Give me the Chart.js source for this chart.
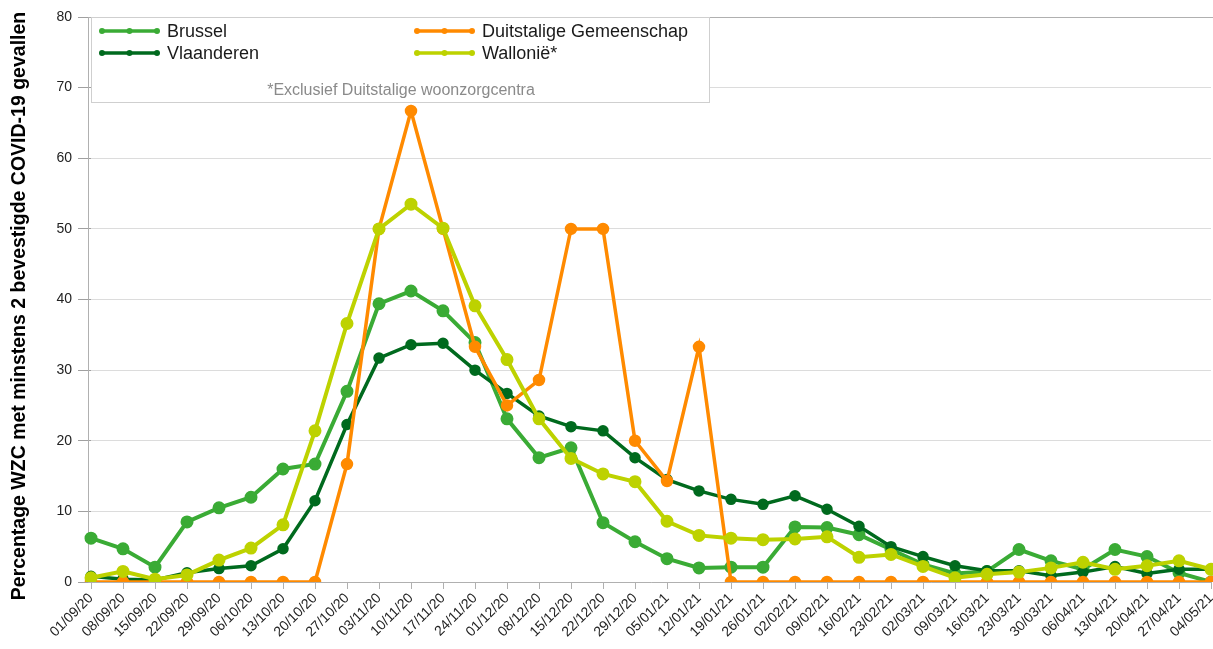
<!DOCTYPE html>
<html>
<head>
<meta charset="utf-8">
<script src="https://cdn.jsdelivr.net/npm/chart.js@4.4.0/dist/chart.umd.min.js"></script>
<style>
html, body { margin: 0; padding: 0; background: #fff; }
</style>
</head>
<body>
<canvas id="chart" width="1213" height="649"></canvas>
<script>
const weeks = ["01/09/20","08/09/20","15/09/20","22/09/20","29/09/20","06/10/20","13/10/20","20/10/20","27/10/20","03/11/20","10/11/20","17/11/20","24/11/20","01/12/20","08/12/20","15/12/20","22/12/20","29/12/20","05/01/21","12/01/21","19/01/21","26/01/21","02/02/21","09/02/21","16/02/21","23/02/21","02/03/21","09/03/21","16/03/21","23/03/21","30/03/21","06/04/21","13/04/21","20/04/21","27/04/21","04/05/21"];

const brussel     = [6.2,4.7,2.1,8.5,10.5,12.0,16.0,16.7,27.0,39.4,41.2,38.4,33.9,23.1,17.6,19.0,8.4,5.7,3.3,2.0,2.1,2.1,7.8,7.7,6.7,4.6,2.5,1.2,1.5,4.6,3.0,1.8,4.6,3.6,1.3,0.0];
const vlaanderen  = [0.8,0.4,0.3,1.3,1.9,2.3,4.7,11.5,22.3,31.7,33.6,33.8,30.0,26.7,23.5,22.0,21.4,17.6,14.5,12.9,11.7,11.0,12.2,10.3,7.9,5.0,3.6,2.3,1.6,1.6,0.9,1.4,2.2,1.2,1.8,1.8];
const duitstalig  = [0,0,0,0,0,0,0,0,16.7,50.0,66.7,50.0,33.3,25.0,28.6,50.0,50.0,20.0,14.3,33.3,0,0,0,0,0,0,0,0,0,0,0,0,0,0,0,0];
const wallonie    = [0.6,1.5,0.4,1.0,3.1,4.8,8.1,21.4,36.6,50.0,53.5,50.1,39.1,31.5,23.1,17.5,15.3,14.2,8.6,6.6,6.2,6.0,6.1,6.4,3.5,3.9,2.2,0.6,1.1,1.4,2.0,2.8,1.8,2.3,3.0,1.8];

const yTicks = [0,10,20,30,40,50,60,70,80];
const seriesNames = ["Brussel","Vlaanderen","Duitstalige Gemeenschap","Wallonië*"];
const footnote = "*Exclusief Duitstalige woonzorgcentra";
const yTitle = "Percentage WZC met minstens 2 bevestigde COVID-19 gevallen";

const colors = ["#3aab35","#006a1e","#ff8a00","#bdd200"];
const FONT = "'Liberation Sans', Arial, sans-serif";
const AXIS = "#b0b0b0";

function ds(label, data, color, width, radius, order) {
    return {
        label, data, order,
        borderColor: color, backgroundColor: color,
        pointBackgroundColor: color, pointBorderColor: color,
        borderWidth: width, pointRadius: radius, pointHoverRadius: radius,
        tension: 0
    };
}

// legend box inside the plot, axis frame and y-axis title
const decorations = {
    id: "decorations",
    beforeDatasetsDraw(chart) {
        const ctx = chart.ctx;
        const a = chart.chartArea;
        const axisX = a.left - 2.5;
        ctx.save();

        // frame: left axis a few px before the first category, top border
        ctx.strokeStyle = AXIS;
        ctx.lineWidth = 1;
        ctx.beginPath();
        ctx.moveTo(axisX, a.top);
        ctx.lineTo(axisX, a.bottom + 0.5);
        ctx.lineTo(a.left, a.bottom + 0.5);
        ctx.moveTo(axisX, a.top + 0.5);
        ctx.lineTo(chart.width, a.top + 0.5);
        ctx.stroke();

        const x0 = 91, y0 = 17, w = 618, h = 85;
        ctx.fillStyle = "#fff";
        ctx.fillRect(x0, y0, w, h);
        ctx.strokeStyle = "#cfcfcf";
        ctx.strokeRect(x0 + 0.5, y0 + 0.5, w, h);

        const spots = [[102, 31], [102, 53], [417, 31], [417, 53]];
        chart.data.datasets.forEach((d, i) => {
            const [lx, ly] = spots[i];
            ctx.strokeStyle = d.borderColor;
            ctx.fillStyle = d.borderColor;
            ctx.lineWidth = 3.5;
            ctx.beginPath();
            ctx.moveTo(lx, ly);
            ctx.lineTo(lx + 55, ly);
            ctx.stroke();
            [0, 27.5, 55].forEach(o => {
                ctx.beginPath();
                ctx.arc(lx + o, ly, 3, 0, Math.PI * 2);
                ctx.fill();
            });
            ctx.fillStyle = "#1a1a1a";
            ctx.font = "18px " + FONT;
            ctx.textBaseline = "middle";
            ctx.textAlign = "left";
            ctx.fillText(d.label, lx + 65, ly + 1);
        });
        ctx.fillStyle = "#8a8a8a";
        ctx.font = "16px " + FONT;
        ctx.textAlign = "center";
        ctx.textBaseline = "middle";
        ctx.fillText(footnote, 401, 91);

        // y-axis title
        ctx.translate(20, 306);
        ctx.rotate(-Math.PI / 2);
        ctx.fillStyle = "#000";
        ctx.font = "bold 19.5px " + FONT;
        ctx.fillText(yTitle, 0, 0);
        ctx.restore();
    }
};

new Chart(document.querySelector("#chart"), {
    type: "line",
    data: {
        labels: weeks,
        datasets: [
            ds(seriesNames[0], brussel, colors[0], 4, 4.5, 3),
            ds(seriesNames[1], vlaanderen, colors[1], 3.5, 4, 2),
            ds(seriesNames[2], duitstalig, colors[2], 3.5, 4.5, 1),
            ds(seriesNames[3], wallonie, colors[3], 4, 4.5, 0)
        ]
    },
    options: {
        responsive: false,
        animation: false,
        layout: { autoPadding: false, padding: { top: 17, right: 2, left: 0, bottom: 0 } },
        plugins: { legend: { display: false }, tooltip: { enabled: false } },
        scales: {
            x: {
                offset: false,
                grid: { drawOnChartArea: false, drawTicks: true, tickLength: 7, color: AXIS },
                border: { color: AXIS },
                ticks: {
                    autoSkip: false, maxRotation: 45, minRotation: 45, padding: 1,
                    color: "#222", font: { family: FONT, size: 14 }
                },
                afterFit: s => { s.height = 67; s.paddingRight = 0; }
            },
            y: {
                min: 0, max: 80,
                afterBuildTicks: s => { s.ticks = yTicks.map(v => ({ value: v })); },
                grid: { color: "#dcdcdc", tickLength: 13, tickColor: "#a0a0a0" },
                border: { display: false },
                ticks: { color: "#222", padding: 6, font: { family: FONT, size: 14 } },
                afterFit: s => { s.width = 91; }
            }
        }
    },
    plugins: [decorations]
});
</script>
</body>
</html>
